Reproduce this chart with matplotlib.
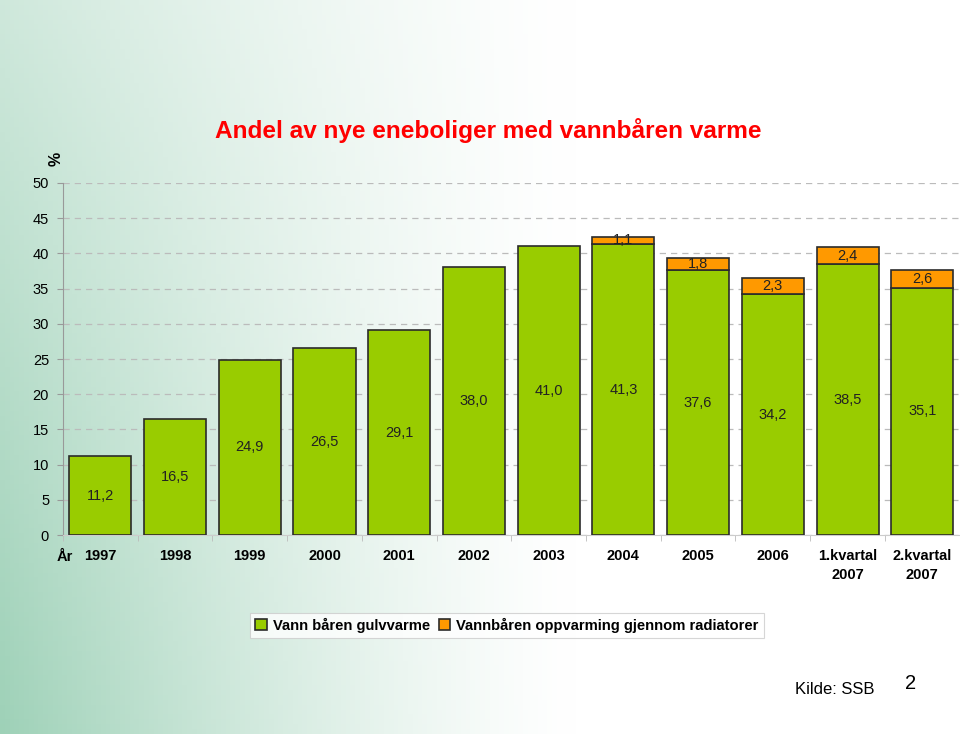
import matplotlib.pyplot as plt
import numpy as np

plt.rcParams['font.family'] = ['Liberation Sans', 'DejaVu Sans']

# ---------------------------------------------------------------------------
# Data
# ---------------------------------------------------------------------------
categories = ['1997', '1998', '1999', '2000', '2001', '2002', '2003',
              '2004', '2005', '2006', '1.kvartal\n2007', '2.kvartal\n2007']
gulvvarme  = [11.2, 16.5, 24.9, 26.5, 29.1, 38.0, 41.0, 41.3, 37.6, 34.2, 38.5, 35.1]
radiatorer = [0, 0, 0, 0, 0, 0, 0, 1.1, 1.8, 2.3, 2.4, 2.6]

GREEN  = '#99CC00'
ORANGE = '#FF9900'
EDGE   = '#2b2b2b'

# ---------------------------------------------------------------------------
# Figure + background
# ---------------------------------------------------------------------------
fig = plt.figure(figsize=(9.6, 7.34), dpi=100)
bg = fig.add_axes([0, 0, 1, 1], zorder=-10)
xx = np.linspace(0, 1, 200)
yy = np.linspace(0, 1, 150)
X, Y = np.meshgrid(xx, yy)
w = np.clip(1 - X / 0.6, 0, 1) ** 1.3 * (0.5 + 0.5 * Y)
c0 = np.array([1.0, 1.0, 1.0])
c1 = np.array([0.62, 0.82, 0.72])
img = c0[None, None, :] * (1 - w[..., None]) + c1[None, None, :] * w[..., None]
bg.imshow(img, extent=[0, 1, 0, 1], aspect='auto', origin='upper')
bg.axis('off')

ax = fig.add_axes([0.0656, 0.271, 0.934, 0.4797])
ax.patch.set_alpha(0)

x = np.arange(len(categories))
bw = 0.83
ax.bar(x, gulvvarme, bw, color=GREEN, edgecolor=EDGE, linewidth=1.2,
       label='Vann båren gulvvarme', zorder=3)
top = [r if r > 0 else np.nan for r in radiatorer]
ax.bar(x, top, bw, bottom=gulvvarme, color=ORANGE, edgecolor=EDGE, linewidth=1.2,
       label='Vannbåren oppvarming gjennom radiatorer', zorder=3)

for i, (g, r) in enumerate(zip(gulvvarme, radiatorer)):
    ax.text(i, g / 2, f'{g:.1f}'.replace('.', ','), ha='center', va='center',
            fontsize=10.5, color='#222222', zorder=5)
    if r > 0:
        ax.text(i, g + r / 2, f'{r:.1f}'.replace('.', ','), ha='center', va='center',
                fontsize=10.5, color='#222222', zorder=5)

ax.set_xlim(-0.5, len(categories) - 0.5)
ax.set_ylim(0, 50)
ax.set_yticks(range(0, 51, 5))
ax.yaxis.grid(True, linestyle=(0, (5, 4)), color='#bbbbbb', linewidth=0.9, zorder=0)
ax.tick_params(axis='y', length=4, color='#999999', labelsize=10.5, pad=6)
ax.set_xticks(x)
ax.set_xticklabels(categories, fontweight='bold', fontsize=10.5, linespacing=1.5)
ax.tick_params(axis='x', length=0, pad=10)
ax.set_xticks(np.arange(-0.5, len(categories)), minor=True)
ax.tick_params(axis='x', which='minor', length=4, color='#bbbbbb')
for s in ['top', 'right']:
    ax.spines[s].set_visible(False)
ax.spines['left'].set_color('#999999')
ax.spines['bottom'].set_color('#cccccc')

# ---------------------------------------------------------------------------
# Text
# ---------------------------------------------------------------------------
fig.text(0.224, 0.822, 'Andel av nye eneboliger med vannbåren varme',
         color='#FF0000', fontsize=17.6, fontweight='bold', va='center')
fig.text(0.058, 0.784, '%', rotation=90, fontsize=11.5, fontweight='bold',
         ha='center', va='center')
fig.text(0.068, 0.241, 'År', fontsize=10.5, fontweight='bold', ha='center', va='center')

leg = fig.legend(loc='center', bbox_to_anchor=(0.528, 0.148), ncol=2,
                 frameon=True, fancybox=False,
                 prop={'size': 10.6, 'weight': 'bold'},
                 handlelength=0.8, handleheight=0.8, handletextpad=0.4,
                 columnspacing=0.6, borderpad=0.35)
leg.get_frame().set_edgecolor('#cccccc')
leg.get_frame().set_linewidth(0.8)

fig.text(0.87, 0.061, 'Kilde: SSB', fontsize=12, ha='center', va='center')
fig.text(0.949, 0.069, '2', fontsize=14.5, ha='center', va='center')

fig.savefig('out.png', dpi=100)
